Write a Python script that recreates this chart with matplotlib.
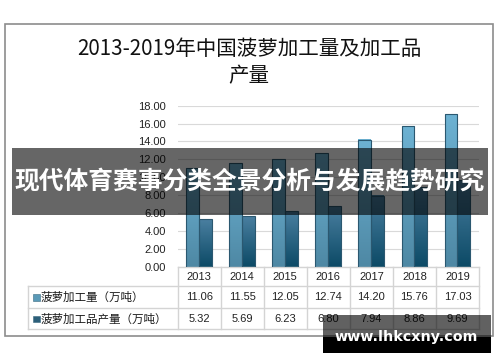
import matplotlib
matplotlib.use("Agg")
import matplotlib.pyplot as plt
import numpy as np
from matplotlib.patches import Rectangle
from matplotlib.colors import LinearSegmentedColormap
from matplotlib.transforms import blended_transform_factory

years = ["2013", "2014", "2015", "2016", "2017", "2018", "2019"]
processing = [11.06, 11.55, 12.05, 12.74, 14.20, 15.76, 17.03]
products = [5.32, 5.69, 6.23, 6.80, 7.94, 8.86, 9.69]
series_names = ["菠萝加工量（万吨）", "菠萝加工品产量（万吨）"]
yticks = [0, 2, 4, 6, 8, 10, 12, 14, 16, 18]
title_lines = ["2013-2019年中国菠萝加工量及加工品", "产量"]
banner = "现代体育赛事分类全景分析与发展趋势研究"
watermark = "www.lhkcxny.com"

CJK = ["Noto Sans CJK SC", "DejaVu Sans"]
W, H = 500, 362

def fx(px):
    return px / W

def fy(py):
    return 1 - py / H

fig = plt.figure(figsize=(W / 100, H / 100), dpi=100)
fig.patch.set_facecolor("white")

# outer border
fig.add_artist(Rectangle((fx(5), fy(336)), fx(493) - fx(5), fy(24) - fy(336),
                         transform=fig.transFigure, fill=False, ec="#8c8c8c", lw=1.2))

# title
for ty, line in zip([49, 76], title_lines):
    fig.text(fx(249), fy(ty), line, ha="center", va="center", fontsize=14.8,
             family=CJK, color="#111111")

ax_left, ax_right, ax_bot, ax_top = 177.7, 479, 266.7, 105.7
ax = fig.add_axes([fx(ax_left), fy(ax_bot), fx(ax_right) - fx(ax_left), fy(ax_top) - fy(ax_bot)])
n = len(years)
x = np.arange(n)
ax.set_xlim(-0.5, n - 0.5)
ax.set_ylim(0, 18)
ax.set_yticks(yticks)
ax.set_yticklabels([f"{v:.2f}" for v in yticks], fontsize=8, family="Liberation Sans", color="#222222")
ax.tick_params(axis="y", length=0, pad=8.5)
ax.set_xticks([])
for s in ax.spines.values():
    s.set_visible(False)
ax.grid(axis="y", color="#d9d9d9", lw=0.8)
ax.set_axisbelow(True)

bw = 0.3
cm1 = LinearSegmentedColormap.from_list("c1", ["#4e88a4", "#6db2d3"])
cm2 = LinearSegmentedColormap.from_list("c2", ["#0c4a66", "#4a7fa0"])
grad = np.linspace(0, 1, 100).reshape(-1, 1)
for vals, off, cm in [(processing, -bw / 2, cm1), (products, bw / 2, cm2)]:
    bars = ax.bar(x + off, vals, width=bw, facecolor="none", edgecolor="#2b5870", lw=0.8, zorder=3)
    for b in bars:
        x0, y0, w, h = b.get_x(), b.get_y(), b.get_width(), b.get_height()
        ax.imshow(grad, extent=[x0, x0 + w, y0, y0 + h], origin="lower", aspect="auto",
                  cmap=cm, zorder=2)
ax.set_xlim(-0.5, n - 0.5)
ax.set_ylim(0, 18)

# data table below axes
tr = blended_transform_factory(ax.transData, fig.transFigure)
gc = "#d4d4d4"
rows_y = [266.7, 286, 308, 329]
ax.plot([-0.5, n - 0.5], [fy(266.7)] * 2, transform=tr, color=gc, lw=1, clip_on=False)
for ry in rows_y[1:]:
    fig.add_artist(plt.Line2D([fx(28), fx(479)], [fy(ry)] * 2, transform=fig.transFigure, color=gc, lw=1))
for k in range(n + 1):
    ax.plot([k - 0.5, k - 0.5], [fy(266.7), fy(329)], transform=tr, color=gc, lw=1, clip_on=False)
fig.add_artist(plt.Line2D([fx(28)] * 2, [fy(286), fy(329)], transform=fig.transFigure, color=gc, lw=1))

for i in range(n):
    ax.text(i, fy(276.5), years[i], transform=tr, ha="center", va="center", fontsize=8,
            family="Liberation Sans", color="#222222")
    ax.text(i, fy(297.5), f"{processing[i]:.2f}", transform=tr, ha="center", va="center", fontsize=8,
            family="Liberation Sans", color="#222222")
    ax.text(i, fy(319), f"{products[i]:.2f}", transform=tr, ha="center", va="center", fontsize=8,
            family="Liberation Sans", color="#222222")

for ry, name, col in [(297.5, series_names[0], "#5a9ab8"), (319, series_names[1], "#2c5f7a")]:
    fig.add_artist(Rectangle((fx(33), fy(ry + 3.2)), fx(6.5), fy(0) - fy(6.5),
                             transform=fig.transFigure, fc=col, ec="#3a6a80", lw=0.4))
    fig.text(fx(40.5), fy(ry), name, ha="left", va="center", fontsize=8.3, family=CJK, color="#1a1a1a")

# banner overlay
fig.add_artist(Rectangle((fx(12), fy(215)), fx(488) - fx(12), fy(148) - fy(215),
                         transform=fig.transFigure, fc="black", alpha=0.6, ec="none", zorder=10))
fig.text(fx(250), fy(182), banner, ha="center", va="center", fontsize=17.8, weight="bold",
         family=CJK, color="white", zorder=11)

# watermark
fig.add_artist(Rectangle((fx(323), fy(337)), fx(491) - fx(323), fy(315) - fy(337),
                         transform=fig.transFigure, fc="black", alpha=0.62, ec="none", zorder=10))
fig.add_artist(Rectangle((fx(323), fy(353)), fx(491) - fx(323), fy(337) - fy(353),
                         transform=fig.transFigure, fc="black", ec="none", zorder=10))
fig.text(fx(406), fy(337), watermark, ha="center", va="center", fontsize=10.3, weight="bold",
         family="DejaVu Sans", color="white", zorder=11)

fig.savefig("out.png", dpi=100)
